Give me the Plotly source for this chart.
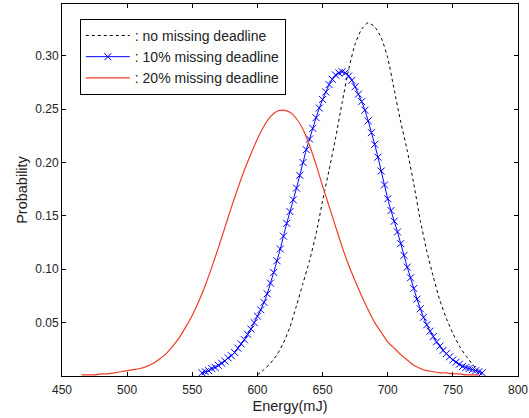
import plotly.graph_objects as go

# ---- data ----
x_none = [600, 605, 610, 615, 620, 625, 630, 635, 640, 645, 650, 655, 660, 665, 670,
          675, 680, 685, 690, 695, 700, 705, 710, 715, 720, 725, 730, 735, 740, 745,
          750, 755, 760, 765, 770]
y_none = [0.001, 0.006, 0.012, 0.020, 0.031, 0.046, 0.066, 0.087, 0.108, 0.133, 0.164,
          0.193, 0.223, 0.256, 0.287, 0.311, 0.325, 0.331, 0.327, 0.317, 0.298, 0.268,
          0.238, 0.211, 0.180, 0.146, 0.117, 0.093, 0.071, 0.054, 0.040, 0.028, 0.019,
          0.011, 0.004]

x_10 = [557.5, 560, 562.5, 565, 567.5, 570, 572.5, 575, 577.5, 580, 582.5, 585, 587.5,
        590, 592.5, 595, 597.5, 600, 602.5, 605, 607.5, 610, 612.5, 615, 617.5, 620,
        622.5, 625, 627.5, 630, 632.5, 635, 637.5, 640, 642.5, 645, 647.5, 650, 652.5,
        655, 657.5, 660, 662.5, 665, 667.5, 670, 672.5, 675, 677.5, 680, 682.5, 685,
        687.5, 690, 692.5, 695, 697.5, 700, 702.5, 705, 707.5, 710, 712.5, 715, 717.5,
        720, 722.5, 725, 727.5, 730, 732.5, 735, 737.5, 740, 742.5, 745, 747.5, 750,
        752.5, 755, 757.5, 760, 762.5, 765, 767.5, 770, 772.5]
y_10 = [0.003, 0.004, 0.005, 0.007, 0.008, 0.010, 0.012, 0.014, 0.017, 0.019, 0.022,
        0.026, 0.030, 0.034, 0.039, 0.044, 0.050, 0.056, 0.062, 0.069, 0.077, 0.087,
        0.097, 0.108, 0.119, 0.131, 0.143, 0.154, 0.165, 0.176, 0.188, 0.200, 0.212,
        0.222, 0.232, 0.242, 0.251, 0.259, 0.266, 0.273, 0.278, 0.282, 0.284, 0.285,
        0.284, 0.281, 0.277, 0.271, 0.264, 0.257, 0.249, 0.239, 0.228, 0.217, 0.205,
        0.192, 0.179, 0.166, 0.155, 0.145, 0.135, 0.124, 0.113, 0.102, 0.092, 0.082,
        0.072, 0.063, 0.055, 0.048, 0.042, 0.037, 0.032, 0.028, 0.024, 0.021, 0.018,
        0.015, 0.013, 0.011, 0.009, 0.008, 0.007, 0.006, 0.005, 0.004, 0.003]

x_20 = [465, 470, 475, 480, 485, 490, 495, 500, 505, 510, 515, 520, 525, 530, 535, 540,
        545, 550, 555, 560, 565, 570, 575, 580, 585, 590, 595, 600, 605, 610, 615, 620,
        625, 630, 635, 640, 645, 650, 655, 660, 665, 670, 675, 680, 685, 690, 695, 700,
        705, 710, 715, 720, 725, 730, 735, 740, 745, 750, 755, 760, 765, 770]
y_20 = [0.001, 0.001, 0.001, 0.002, 0.002, 0.003, 0.004, 0.005, 0.006, 0.007, 0.009,
        0.012, 0.016, 0.021, 0.028, 0.036, 0.046, 0.057, 0.070, 0.085, 0.102, 0.120,
        0.139, 0.158, 0.176, 0.193, 0.208, 0.222, 0.234, 0.243, 0.248, 0.249, 0.247,
        0.241, 0.231, 0.216, 0.198, 0.178, 0.159, 0.140, 0.121, 0.104, 0.089, 0.075,
        0.062, 0.050, 0.041, 0.032, 0.026, 0.020, 0.015, 0.010, 0.007, 0.005, 0.004,
        0.003, 0.003, 0.002, 0.002, 0.001, 0.001, 0.001]

series_names = [": no missing deadline", ": 10% missing deadline", ": 20% missing deadline"]
x_ticks = [450, 500, 550, 600, 650, 700, 750, 800]
y_ticks = [0.05, 0.10, 0.15, 0.20, 0.25, 0.30]
y_tick_labels = ["0.05", "0.10", "0.15", "0.20", "0.25", "0.30"]

fig = go.Figure()
fig.add_trace(go.Scatter(x=x_none, y=y_none, mode="lines", name=series_names[0],
                         line=dict(color="black", width=1, dash="3px,3px",
                                   shape="spline", smoothing=0.6)))
fig.add_trace(go.Scatter(x=x_10, y=y_10, mode="lines+markers", name=series_names[1],
                         line=dict(color="blue", width=1, shape="spline", smoothing=0.6),
                         marker=dict(symbol="x-thin-open", size=7,
                                     line=dict(color="rgba(40,40,255,0.7)", width=1))))
fig.add_trace(go.Scatter(x=x_20, y=y_20, mode="lines", name=series_names[2],
                         line=dict(color="#f03c28", width=1.2, shape="spline", smoothing=0.6)))

axis_common = dict(showline=True, linecolor="black", linewidth=1, mirror="ticks",
                   ticks="inside", ticklen=4, tickcolor="black", showgrid=False,
                   zeroline=False, automargin=False,
                   tickfont=dict(family="Liberation Sans", size=12, color="#222"))

fig.update_layout(
    width=529, height=418,
    margin=dict(l=62, r=11, t=4, b=42),
    paper_bgcolor="white", plot_bgcolor="white",
    font=dict(family="Liberation Sans", size=12, color="#222"),
    xaxis=dict(range=[450, 800], tickvals=x_ticks, ticklabelstandoff=3,
               title=dict(text="Energy(mJ)", standoff=4, font=dict(size=14.5)), **axis_common),
    yaxis=dict(range=[0, 0.3485], tickvals=y_ticks, ticktext=y_tick_labels,
               title=dict(text="Probability", standoff=4, font=dict(size=14.5)), **axis_common),
    legend=dict(x=0.039, y=0.96, xanchor="left", yanchor="top",
                bgcolor="white", bordercolor="black", borderwidth=1,
                font=dict(family="Liberation Sans", size=14, color="#222"),
                itemwidth=44, tracegroupgap=0),
    showlegend=True,
)

fig.write_html("out.html", config={"displayModeBar": False},
               post_script="document.body.style.margin='0px';document.body.style.overflow='hidden';")
